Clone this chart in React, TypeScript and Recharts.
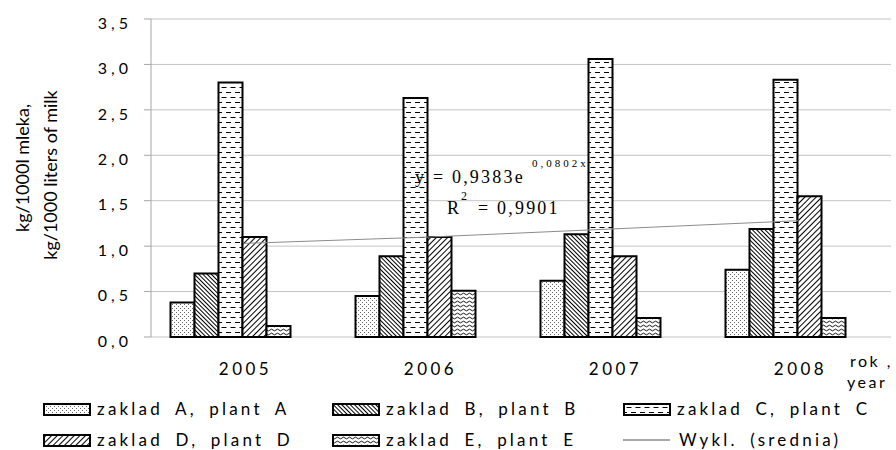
import React from 'react';
import { ComposedChart, Bar, Line, XAxis, YAxis, CartesianGrid } from 'recharts';

const years = ['2005', '2006', '2007', '2008'];
const plantA = [0.38, 0.45, 0.62, 0.74];
const plantB = [0.7, 0.89, 1.13, 1.19];
const plantC = [2.8, 2.63, 3.06, 2.83];
const plantD = [1.1, 1.1, 0.89, 1.55];
const plantE = [0.12, 0.51, 0.21, 0.21];
const average = [1.02, 1.12, 1.18, 1.3];
const trend = [1.03, 1.1, 1.19, 1.28];
const yTicks = [0, 0.5, 1, 1.5, 2, 2.5, 3, 3.5];
const boundaryTicks = [0, 1, 2, 3, 4];
const seriesKeys = ['A', 'B', 'C', 'D', 'E'];
const seriesNames = [
  'zaklad A, plant A',
  'zaklad B, plant B',
  'zaklad C, plant C',
  'zaklad D, plant D',
  'zaklad E, plant E',
];
const trendName = 'Wykl. (srednia)';

const data = years.map((year, i) => ({
  year,
  idx: i + 0.5,
  A: plantA[i],
  B: plantB[i],
  C: plantC[i],
  D: plantD[i],
  E: plantE[i],
  avg: average[i],
  trend: trend[i],
}));

const fmt = (v: number) => v.toFixed(1).replace('.', ',');
const SANS = 'Lato, "Open Sans", sans-serif';
const SERIF = '"Liberation Serif", "DejaVu Serif", serif';

const YTick = (props: any) => {
  const { x, y, payload } = props;
  return (
    <text x={x} y={y + 4} dy="0.355em" textAnchor="end" fontFamily={SANS} fontSize={16} letterSpacing={4} fill="#000">
      {fmt(payload.value)}
    </text>
  );
};

const XTick = (props: any) => {
  const { x, y, payload } = props;
  return (
    <text x={x + 2} y={y + 38} textAnchor="middle" fontFamily={SANS} fontSize={17} letterSpacing={3.5} fill="#000">
      {payload.value}
    </text>
  );
};

const Patterns = () => (
  <svg width={0} height={0} style={{ position: 'absolute' }}>
    <defs>
      <pattern id="patA" width={4} height={4} patternUnits="userSpaceOnUse">
        <rect width={4} height={4} fill="#fff" />
        <rect x={0} y={0} width={1} height={1} fill="#666" />
        <rect x={2} y={2} width={1} height={1} fill="#666" />
      </pattern>
      <pattern id="patB" width={3} height={3} patternUnits="userSpaceOnUse" patternTransform="rotate(-45)">
        <rect width={3} height={3} fill="#fff" />
        <line x1={0.5} y1={0} x2={0.5} y2={3} stroke="#000" strokeWidth={1} />
      </pattern>
      <pattern id="patC" width={9} height={10} patternUnits="userSpaceOnUse">
        <rect width={9} height={10} fill="#fff" />
        <line x1={1} y1={2.5} x2={6} y2={2.5} stroke="#000" strokeWidth={1} />
        <line x1={5.5} y1={7.5} x2={9} y2={7.5} stroke="#000" strokeWidth={1} />
        <line x1={0} y1={7.5} x2={1.5} y2={7.5} stroke="#000" strokeWidth={1} />
      </pattern>
      <pattern id="patD" width={4} height={4} patternUnits="userSpaceOnUse" patternTransform="rotate(45)">
        <rect width={4} height={4} fill="#fff" />
        <line x1={0.5} y1={0} x2={0.5} y2={4} stroke="#000" strokeWidth={1} />
      </pattern>
      <pattern id="patE" width={6} height={4} patternUnits="userSpaceOnUse">
        <rect width={6} height={4} fill="#fff" />
        <path d="M0 2 Q1.5 0.3 3 2 T6 2" fill="none" stroke="#000" strokeWidth={0.9} />
      </pattern>
    </defs>
  </svg>
);

const legendPos = [
  { x: 43, y: 403 },
  { x: 332, y: 403 },
  { x: 623, y: 403 },
  { x: 43, y: 434 },
  { x: 332, y: 434 },
];

export default function App() {
  return (
    <div style={{ position: 'absolute', left: 0, top: 0, width: 896, height: 450, background: '#fff' }}>
      <Patterns />
      <ComposedChart
        width={896}
        height={450}
        data={data}
        margin={{ top: 19, right: 5, left: 91, bottom: 83 }}
        barCategoryGap={19.5}
        barGap={0}
      >
        <CartesianGrid horizontal vertical={false} stroke="#c4c4c4" />
        <XAxis
          xAxisId="grid"
          type="number"
          dataKey="idx"
          domain={[0, 4]}
          ticks={boundaryTicks}
          allowDataOverflow
          height={0}
          tickSize={6}
          tick={() => <g />}
          axisLine={{ stroke: '#a6a6a6' }}
          tickLine={{ stroke: '#a6a6a6' }}
          interval={0}
        />
        <XAxis
          dataKey="year"
          height={30}
          axisLine={false}
          tickLine={false}
          tickSize={0}
          tickMargin={0}
          tick={<XTick />}
          interval={0}
        />
        <YAxis
          domain={[0, 3.5]}
          ticks={yTicks}
          interval={0}
          width={60}
          tickSize={7}
          tickMargin={12}
          axisLine={{ stroke: '#a6a6a6' }}
          tickLine={{ stroke: '#a6a6a6' }}
          tick={<YTick />}
        />
        <Line
          dataKey="trend"
          name={trendName}
          type="linear"
          stroke="#8c8c8c"
          strokeWidth={1}
          dot={false}
          activeDot={false}
          isAnimationActive={false}
        />
        {seriesKeys.map((k, i) => (
          <Bar
            key={k}
            dataKey={k}
            name={seriesNames[i]}
            fill={`url(#pat${k})`}
            stroke="#000"
            strokeWidth={2}
            isAnimationActive={false}
          />
        ))}
        <Bar dataKey="avg" name="srednia" fill="none" stroke="none" isAnimationActive={false} />
      </ComposedChart>

      <svg width={896} height={450} style={{ position: 'absolute', left: 0, top: 0, pointerEvents: 'none' }}>
        <text transform="translate(29,168) rotate(-90)" textAnchor="middle" fontFamily={SANS} fontSize={18} fill="#000">
          kg/1000l mleka,
        </text>
        <text transform="translate(57,175) rotate(-90)" textAnchor="middle" fontFamily={SANS} fontSize={18} fill="#000">
          kg/1000 liters of milk
        </text>

        <text x={850} y={367} fontFamily={SANS} fontSize={16} letterSpacing={2.5} fill="#000">rok ,</text>
        <text x={847} y={388} fontFamily={SANS} fontSize={16} letterSpacing={2.5} fill="#000">year</text>

        <text x={415} y={183} fontFamily={SERIF} fontSize={18} letterSpacing={2.2} fill="#000">y = 0,9383e</text>
        <text x={532} y={167} fontFamily={SERIF} fontSize={11} letterSpacing={3} fill="#000">0,0802x</text>
        <text x={447} y={214} fontFamily={SERIF} fontSize={18} letterSpacing={2.2} fill="#000">R</text>
        <text x={461} y={200} fontFamily={SERIF} fontSize={12} fill="#000">2</text>
        <text x={478} y={214} fontFamily={SERIF} fontSize={18} letterSpacing={2.2} fill="#000">= 0,9901</text>

        {seriesKeys.map((k, i) => (
          <g key={k}>
            <rect
              x={legendPos[i].x + 1}
              y={legendPos[i].y + 1}
              width={46}
              height={11}
              fill={`url(#pat${k})`}
              stroke="#000"
              strokeWidth={2}
            />
            <text
              x={legendPos[i].x + 54}
              y={legendPos[i].y + 12}
              fontFamily={SANS}
              fontSize={17}
              letterSpacing={3.2}
              wordSpacing={5}
              fill="#000"
            >
              {seriesNames[i]}
            </text>
          </g>
        ))}
        <line x1={623} y1={440} x2={670} y2={440} stroke="#8c8c8c" strokeWidth={1.5} />
        <text x={679} y={446} fontFamily={SANS} fontSize={17} letterSpacing={3.2} wordSpacing={5} fill="#000">
          {trendName}
        </text>
      </svg>
    </div>
  );
}
